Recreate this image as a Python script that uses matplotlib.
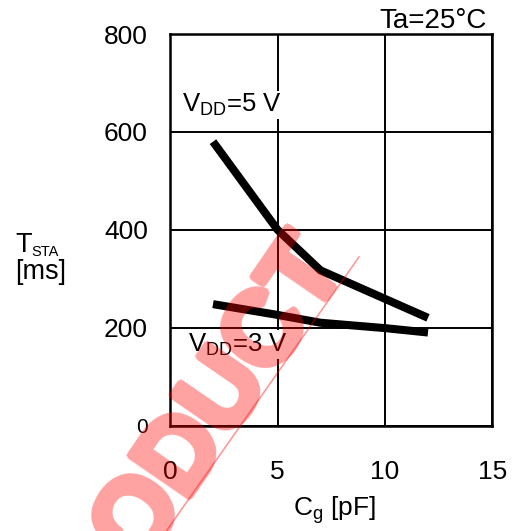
import numpy as np
import matplotlib
matplotlib.use("Agg")
import matplotlib.pyplot as plt
from matplotlib.lines import Line2D

plt.rcParams['font.family'] = ['Liberation Sans', 'DejaVu Sans']
plt.rcParams['mathtext.default'] = 'regular'

# start-up time vs. gate capacitance
cg_5v = [2, 5, 7, 12]
tsta_5v = [580, 400, 317, 220]
cg_3v = [2, 5, 7, 10, 12]
tsta_3v = [248, 226, 210, 199, 190]

xticks = [0, 5, 10, 15]
yticks = [0, 200, 400, 600, 800]


def heavy_pink(img, dpi, r=4, alpha=0.37):
    # make the watermark letters heavier and semi transparent
    a = np.pad(img[..., 3], r)
    out = a.copy()
    for dy in range(-r, r + 1):
        for dx in range(-r, r + 1):
            if dx * dx + dy * dy <= r * r:
                out = np.maximum(out, np.roll(np.roll(a, dy, 0), dx, 1))
    res = np.zeros(out.shape + (4,))
    res[..., 0] = 1.0
    res[..., 3] = out * alpha
    return res, -r, -r


fig = plt.figure(figsize=(5.14, 5.31), dpi=100)
ax = fig.add_axes([170/514, 1 - 425.5/531, 322.5/514, 391.5/531])

ax.plot(cg_5v, tsta_5v, color='black', lw=5.8, solid_capstyle='butt', solid_joinstyle='miter', zorder=3)
ax.plot(cg_3v, tsta_3v, color='black', lw=5.8, solid_capstyle='butt', solid_joinstyle='miter', zorder=3)

ax.set_xlim(0, 15)
ax.set_ylim(0, 800)
ax.set_xticks(xticks)
ax.set_yticks(yticks)
ax.set_xticklabels([str(v) for v in xticks], fontsize=19)
ax.set_yticklabels([str(v) for v in yticks], fontsize=19)
ax.yaxis.get_ticklabels()[0].set_fontsize(15)
ax.tick_params(length=0)
ax.tick_params(axis='x', pad=25)
ax.tick_params(axis='y', pad=16)
ax.grid(True, color='black', lw=1.4)
for s in ax.spines.values():
    s.set_linewidth(1.8)

ax.text(0.54, 641, 'V$_{DD}$=5 V', fontsize=18.5, ha='left', va='baseline',
        bbox=dict(facecolor='white', edgecolor='none', pad=1), zorder=4)
ax.text(0.85, 151, 'V$_{DD}$=3 V', fontsize=18.5, ha='left', va='baseline',
        bbox=dict(facecolor='white', edgecolor='none', pad=1), zorder=4)

fig.text(293/514, 1 - 516/531, 'C$_g$ [pF]', fontsize=19, ha='left', va='baseline')
fig.text(15/514, 1 - 252/531, 'T', fontsize=19.5, ha='left', va='baseline')
fig.text(31/514, 1 - 255.5/531, 'STA', fontsize=10.5, ha='left', va='baseline')
fig.text(15/514, 1 - 279/531, '[ms]', fontsize=19.5, ha='left', va='baseline')
fig.text(487/514, 1 - 28/531, 'Ta=25°C', fontsize=20, ha='right', va='baseline')

# red watermark
wm = fig.text(345/514, 1 - 261/531, 'PRODUCT', fontsize=74, fontweight='bold', family='Liberation Sans',
              color='red', rotation=55.5, rotation_mode='anchor', ha='right', va='baseline', zorder=10)
wm.set_agg_filter(heavy_pink)
fig.add_artist(Line2D([359/514, 146/514], [1 - 257/531, 1 - 560/531], transform=fig.transFigure,
                      color='red', alpha=0.4, lw=1.2, zorder=10))

fig.savefig('out.png', dpi=100)
